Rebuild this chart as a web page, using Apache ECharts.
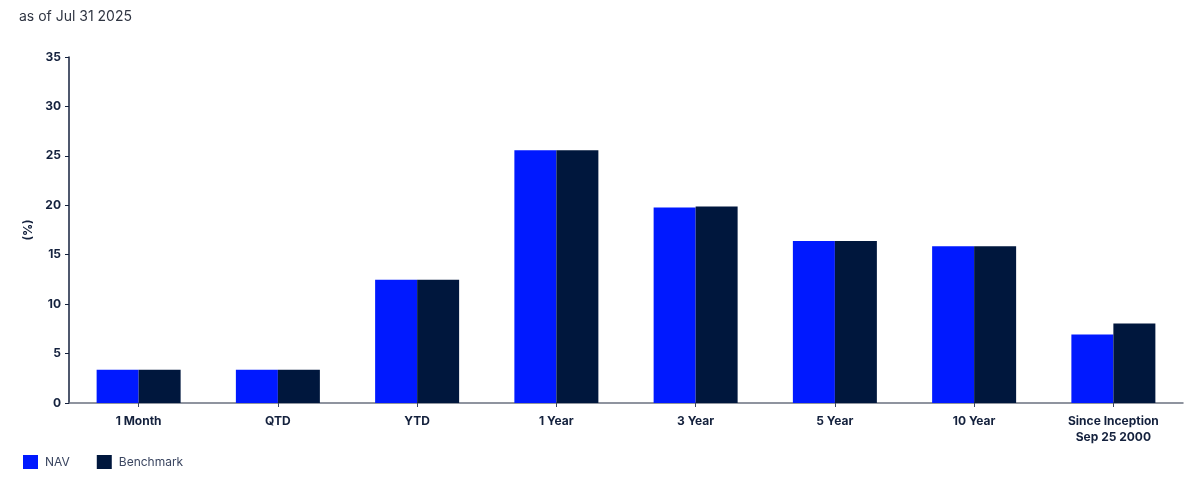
<!DOCTYPE html>
<html>
<head>
<meta charset="utf-8">
<title>Performance</title>
<script src="https://cdn.jsdelivr.net/npm/echarts@6/dist/echarts.min.js"></script>
<style>
  html, body { margin: 0; padding: 0; background: #fff; }
  #c { width: 1200px; height: 481px; }
</style>
</head>
<body>
<div id="c"></div>
<script>
var periods = ['1 Month', 'QTD', 'YTD', '1 Year', '3 Year', '5 Year', '10 Year', 'Since Inception\nSep 25 2000'];
var navValues = [3.37, 3.37, 12.48, 25.56, 19.77, 16.39, 15.85, 6.92];
var benchValues = [3.37, 3.37, 12.48, 25.56, 19.87, 16.39, 15.85, 8.03];
var yTicks = [0, 5, 10, 15, 20, 25, 30, 35];

var textColor = '#14213d';
var myChart = echarts.init(document.getElementById('c'));
var option = {
  textStyle: { fontFamily: 'Inter' },
  title: {
    text: 'as of Jul 31 2025',
    left: 14, top: 5,
    textStyle: { fontSize: 14, fontWeight: 'normal', color: '#2f3542', fontFamily: 'Inter' }
  },
  legend: {
    left: 18, bottom: 7,
    itemWidth: 15, itemHeight: 14, itemGap: 27,
    icon: 'rect',
    textStyle: { color: '#3a4560', fontSize: 12, fontFamily: 'Inter', padding: [0, 0, 0, 2] },
    data: ['NAV', 'Benchmark']
  },
  grid: { left: 69, right: 17, top: 57, bottom: 78, containLabel: false },
  xAxis: {
    type: 'category',
    data: periods,
    axisTick: { show: true, alignWithLabel: true, length: 4, lineStyle: { color: '#3a4560' } },
    axisLine: { lineStyle: { color: '#6b7280', width: 1.5 } },
    axisLabel: { color: textColor, fontWeight: 'bold', fontSize: 12, margin: 10, lineHeight: 16, interval: 0 }
  },
  yAxis: {
    type: 'value',
    min: yTicks[0], max: yTicks[yTicks.length - 1], interval: 5,
    name: '(%)',
    nameLocation: 'middle',
    nameGap: 34,
    nameRotate: 90,
    nameTextStyle: { color: textColor, fontWeight: 'bold', fontSize: 12 },
    splitLine: { show: false },
    axisLine: { show: true, lineStyle: { color: '#14213d', width: 1.5 } },
    axisTick: { show: true, length: 4, lineStyle: { color: '#14213d' } },
    axisLabel: { color: textColor, fontWeight: 'bold', fontSize: 12, margin: 8 }
  },
  series: [
    {
      name: 'NAV', type: 'bar', data: navValues,
      barWidth: 42, barGap: '0%',
      itemStyle: { color: '#0019ff' }
    },
    {
      name: 'Benchmark', type: 'bar', data: benchValues,
      barWidth: 42,
      itemStyle: { color: '#00173d' }
    }
  ]
};
myChart.setOption(option);
</script>
</body>
</html>
